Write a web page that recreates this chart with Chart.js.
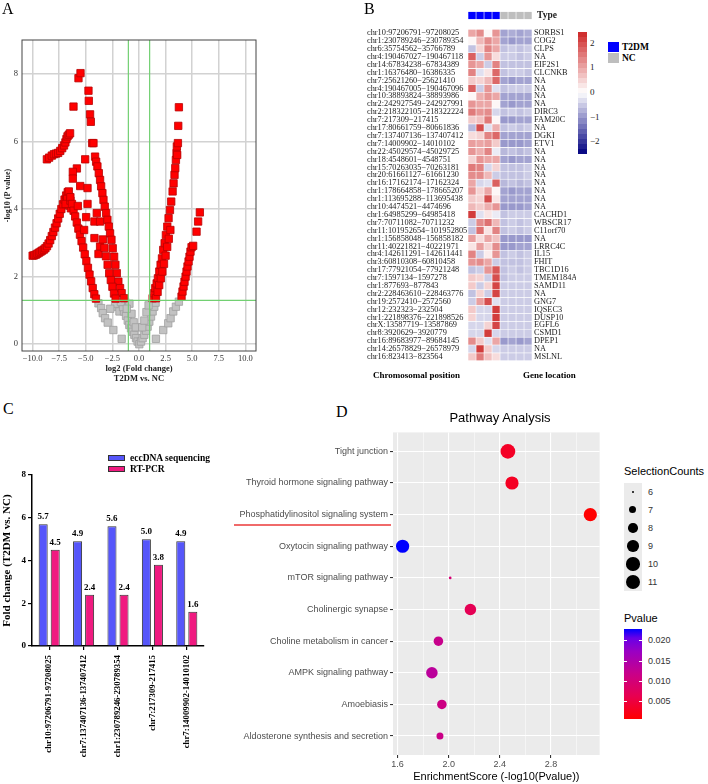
<!DOCTYPE html>
<html>
<head>
<meta charset="utf-8">
<script src="https://cdn.jsdelivr.net/npm/chart.js@4.4.1/dist/chart.umd.min.js"></script>
<style>
  body { margin: 0; background: #fff; }
  #page { position: relative; width: 708px; height: 784px; overflow: hidden; font-family: 'Liberation Serif', serif; }
  canvas { position: absolute; }
  .abs { position: absolute; white-space: nowrap; line-height: 1; }
</style>
</head>
<body>
<div id="page">
  <canvas id="volcano" width="270" height="384" style="left:0;top:0"></canvas>
  <canvas id="typeStrip" width="209" height="20" style="left:367px;top:5px"></canvas>
  <canvas id="heat" width="209" height="344" style="left:367px;top:23px"></canvas>
  <canvas id="bars" width="215" height="340" style="left:0;top:440px"></canvas>
  <canvas id="pathway" width="387" height="359" style="left:220px;top:425px"></canvas>
</div>
<script>
// ---------- A: volcano ----------
const FC_CUT = 1;
const P_CUT = 1.3;
const xTicksA = [-10, -7.5, -5, -2.5, 0, 2.5, 5, 7.5, 10];
const yTicksA = [0, 2, 4, 6, 8];
// significant circles [log2FC, -log10 p]
const sigPoints = [
  [-10.0,2.62],[-9.85,2.63],[-9.7,2.65],[-9.55,2.68],[-9.4,2.71],[-9.25,2.74],[-9.1,2.77],[-8.95,2.8],
  [-8.8,2.84],[-8.65,2.9],[-8.5,2.98],[-8.35,3.08],[-8.2,3.2],[-8.05,3.32],[-7.9,3.45],[-7.75,3.58],
  [-7.6,3.72],[-7.45,3.86],[-7.3,4.0],[-7.15,4.14],[-7.0,4.28],[-6.85,4.4],[-6.7,4.5],[-6.6,4.52],
  [-6.75,4.3],[-6.55,4.1],[-6.4,4.02],[-6.9,4.15],[-6.45,4.25],
  [-6.45,4.35],[-6.3,4.15],[-6.15,3.95],[-6.0,3.78],[-5.85,3.6],[-5.7,3.42],[-5.55,3.24],[-5.4,3.05],
  [-5.25,2.86],[-5.1,2.66],[-4.95,2.46],[-4.8,2.26],[-4.65,2.06],[-4.5,1.86],[-4.35,1.66],[-4.2,1.48],[-4.05,1.35],
  [-8.66,5.47],[-8.45,5.52],[-8.2,5.58],[-8.0,5.62],[-7.8,5.64],[-7.6,5.66],[-7.4,5.72],[-7.22,5.8],
  [-7.05,5.88],[-6.92,5.97],[-6.82,6.07],[-6.72,6.15],[-6.6,6.2],[-6.48,6.24],
  [-5.69,7.87],[-5.5,8.02],[-6.16,7.03],[-4.75,7.5],[-4.72,7.2],[-4.6,6.8],[-4.53,6.58],[-4.4,5.95],
  [-4.28,5.95],[-5.06,5.47],[-5.84,5.2],[-6.22,5.1],[-6.22,4.9],[-5.53,4.68],[-4.84,4.62],[-4.84,4.15],
  [-5.75,4.09],[-4.97,3.76],[-5.16,3.38],[-3.97,3.88],[-4.19,3.63],[-3.66,3.63],[-4.19,3.14],[-3.66,2.89],[-3.81,2.67],
  [-4.13,5.55],[-4.03,5.4],[-3.91,5.26],[-3.78,5.06],[-3.66,4.86],[-3.56,4.67],[-3.44,4.47],[-3.34,4.27],
  [-3.22,4.07],[-3.09,3.88],[-2.97,3.68],[-2.84,3.48],[-2.72,3.28],[-2.59,3.09],[-2.47,2.84],[-2.34,2.59],
  [-2.22,2.35],[-2.09,2.1],[-1.94,1.85],[-1.78,1.66],[-1.63,1.51],[-1.41,1.36],
  [-3.4,3.1],[-3.25,2.85],[-3.1,2.6],[-2.95,2.35],[-2.8,2.1],[-2.65,1.9],[-2.5,1.7],[-2.35,1.5],[-2.2,1.35],
  [1.28,1.36],[1.41,1.51],[1.53,1.66],[1.66,1.8],[1.78,1.95],[1.91,2.15],[2.03,2.35],[2.16,2.54],
  [2.28,2.79],[2.41,2.99],[2.53,3.23],[2.66,3.48],[2.78,3.73],[2.91,3.97],[3.03,4.22],[3.16,4.52],
  [3.25,4.76],[3.34,5.01],[3.41,5.21],[3.47,5.45],[3.53,5.65],[3.56,5.85],
  [3.66,5.95],[3.59,5.6],[3.69,6.46],[3.75,7.01],
  [1.6,1.36],[1.75,1.55],[1.9,1.75],[2.05,1.95],[2.2,2.15],[2.35,2.38],[2.5,2.62],[2.65,2.88],[2.8,3.12],[2.95,3.38],
  [4.0,1.41],[4.09,1.56],[4.19,1.71],[4.28,1.85],[4.38,2.0],[4.47,2.15],[4.56,2.3],[4.66,2.45],
  [4.75,2.59],[4.84,2.74],[4.94,2.87],[5.09,2.91],
  [5.41,3.33],[5.56,3.63],[5.72,3.9]
];
const nsPoints = [
  [-3.81,1.21],[-3.56,1.07],[-3.41,0.92],[-3.19,0.77],[-2.94,0.64],[-2.41,0.42],[-1.63,0.16],[-2.09,1.11],
  [-1.84,0.97],[-2.25,1.2],[-1.31,1.26],[-1.41,0.97],[-1.22,0.84],[-1.06,0.7],[-0.91,0.57],[-0.75,0.47],
  [-0.59,0.37],[-0.44,0.28],[-0.28,0.18],[-0.13,0.08],[0.03,0.0],[0.19,0.08],[0.34,0.18],[0.5,0.28],
  [0.66,0.4],[0.81,0.52],[0.97,0.67],[1.13,0.82],[1.28,0.97],[1.44,1.11],[1.56,1.23],[1.59,0.16],
  [2.28,0.42],[2.75,0.62],[2.97,0.77],[3.22,0.97],[3.47,1.11],[3.75,1.26],[-1.5,1.1],[-0.7,0.9],
  [-0.5,0.65],[-0.3,0.5],[0.3,0.5],[0.5,0.7],[0.7,0.95],[0.9,1.15],[-0.9,1.2],[-1.7,1.25],[-2.7,1.05],[-1.15,1.05]
];

// ---------- B: heatmap ----------
const chromPos = [
  'chr10:97206791\u221297208025','chr1:230789246\u2212230789354','chr6:35754562\u221235766789','chr4:190467027\u2212190467118',
  'chr14:67834238\u221267834389','chr1:16376480\u221216386335','chr7:25621260\u221225621410','chr4:190467005\u2212190467096',
  'chr10:38893824\u221238893986','chr2:242927549\u2212242927991','chr2:218322105\u2212218322224','chr7:217309\u2212217415',
  'chr17:80661759\u221280661836','chr7:137407136\u2212137407412','chr7:14009902\u221214010102','chr22:45029574\u221245029725',
  'chr18:4548601\u22124548751','chr15:70263035\u221270263181','chr20:61661127\u221261661230','chr16:17162174\u221217162324',
  'chr1:178664858\u2212178665207','chr1:113695288\u2212113695438','chr10:4474521\u22124474696','chr1:64985299\u221264985418',
  'chr7:70711082\u221270711232','chr11:101952654\u2212101952805','chr1:156858048\u2212156858182','chr11:40221821\u221240221971',
  'chr4:142611291\u2212142611441','chr3:60810308\u221260810458','chr17:77921054\u221277921248','chr7:1597134\u22121597278',
  'chr1:877693\u2212877843','chr2:228463610\u2212228463776','chr19:2572410\u22122572560','chr12:232323\u2212232504',
  'chr1:221898376\u2212221898526','chrX:13587719\u221213587869','chr8:3920629\u22123920779','chr16:89683977\u221289684145',
  'chr14:26578829\u221226578979','chr16:823413\u2212823564'
];
const geneLoc = [
  'SORBS1','COG2','CLPS','NA','EIF2S1','CLCNKB','NA','NA','NA','NA','DIRC3','FAM20C','NA','DGKI','ETV1',
  'NA','NA','NA','NA','NA','NA','NA','NA','CACHD1','WBSCR17','C11orf70','NA','LRRC4C','IL15','FHIT',
  'TBC1D16','TMEM184A','SAMD11','NA','GNG7','IQSEC3','DUSP10','EGFL6','CSMD1','DPEP1','NA','MSLNL'
];
const sampleType = ['T2DM','T2DM','T2DM','T2DM','NC','NC','NC','NC'];
const heatT2DM = [
  [1.0,1.3,0.1,1.2],[0.1,0.8,1.3,1.0],[-0.6,0.5,1.4,1.0],[1.8,-0.5,1.2,0.4],[1.2,1.0,-0.5,1.4],
  [1.4,-0.3,0.3,1.7],[0.6,0.5,0.8,1.7],[1.8,-0.5,1.2,-0.3],[0.1,0.9,1.2,1.0],[1.2,1.0,1.0,0.1],
  [1.5,1.2,1.3,-0.4],[0.6,0.7,1.5,0.1],[-0.7,2.0,-0.3,0.9],[0.4,0.5,1.4,1.7],[1.1,1.0,1.1,0.6],
  [1.2,0.9,1.4,-0.2],[0.5,1.2,1.0,1.0],[1.5,1.4,-0.4,0.5],[1.3,1.3,0.8,-0.5],[1.0,-0.4,-0.3,1.8],
  [1.2,0.5,1.0,0.1],[0.6,0.5,2.0,0.3],[0.8,0.6,0.9,1.2],[2.2,-0.3,0.3,-0.2],[-0.5,1.3,1.6,0.8],
  [-0.6,1.6,0.3,1.4],[1.1,0.4,1.0,0.7],[0.3,1.1,0.5,1.3],[1.4,-0.5,0.2,1.2],[1.2,1.3,1.0,-0.5],
  [-0.6,-0.5,1.2,1.9],[0.6,0.5,-0.5,2.0],[0.6,-0.5,0.5,2.1],[-0.6,0.5,-0.5,2.1],[-0.5,1.1,2.0,-0.3],
  [0.6,-0.4,-0.4,2.2],[0.5,-0.4,-0.4,2.2],[-0.4,-0.4,0.5,2.1],[-0.4,-0.4,2.2,-0.4],[1.3,0.6,-0.3,1.0],
  [-0.4,2.2,0.6,-0.4],[0.6,1.5,0.7,0.4]
];
const heatNC = [
  [-0.9,-0.8,-0.9,-0.8],[-0.9,-1.0,-0.9,-0.9],[-0.6,-0.5,-0.6,-0.5],[-0.5,-0.5,-0.6,-0.5],[-0.6,-0.6,-0.6,-0.6],
  [-0.6,-0.5,-0.5,-0.6],[-0.9,-1.0,-0.9,-0.9],[-0.6,-0.5,-0.5,-0.5],[-0.9,-0.9,-0.9,-0.9],[-0.9,-1.0,-0.9,-0.9],
  [-0.6,-0.5,-0.6,-0.5],[-1.0,-1.0,-0.9,-0.9],[-0.6,-0.5,-0.6,-0.5],[-0.9,-0.9,-0.9,-0.9],[-1.0,-1.0,-1.0,-0.9],
  [-0.7,-0.6,-0.7,-0.6],[-0.9,-1.0,-0.9,-0.9],[-0.6,-0.6,-0.6,-0.5],[-0.6,-0.6,-0.6,-0.5],[-0.7,-0.6,-0.7,-0.6],
  [-0.9,-1.0,-0.9,-0.9],[-0.9,-0.9,-0.9,-0.9],[-1.0,-1.0,-1.0,-0.9],[-0.6,-0.5,-0.5,-0.5],[-0.6,-0.5,-0.6,-0.5],
  [-0.6,-0.5,-0.6,-0.5],[-1.0,-1.0,-1.0,-1.0],[-1.0,-1.0,-0.9,-0.9],[-0.6,-0.5,-0.6,-0.5],[-0.6,-0.6,-0.6,-0.5],
  [-0.6,-0.5,-0.6,-0.5],[-0.6,-0.5,-0.5,-0.5],[-0.5,-0.5,-0.5,-0.5],[-0.5,-0.5,-0.5,-0.5],[-0.5,-0.5,-0.5,-0.5],
  [-0.5,-0.5,-0.5,-0.5],[-0.5,-0.5,-0.5,-0.5],[-0.5,-0.5,-0.5,-0.5],[-0.5,-0.5,-0.5,-0.5],[-1.0,-0.9,-1.0,-0.9],
  [-0.5,-0.5,-0.5,-0.5],[-0.5,-0.5,-0.5,-0.5]
];
const heatTicks = [2, 1, 0, -1, -2];
const HEAT_MAX = 2.45, HEAT_MIN = -2.5;

// ---------- C: validation bars ----------
const validLoci = ['chr10:97206791-97208025','chr7:137407136-137407412','chr1:230789246-230789354','chr7:217309-217415','chr7:14009902-14010102'];
const seqFold = [5.7, 4.9, 5.6, 5.0, 4.9];
const pcrFold = [4.5, 2.4, 2.4, 3.8, 1.6];

// ---------- D: pathway bubbles ----------
const pathways = ['Tight junction','Thyroid hormone signaling pathway','Phosphatidylinositol signaling system',
  'Oxytocin signaling pathway','mTOR signaling pathway','Cholinergic synapse','Choline metabolism in cancer',
  'AMPK signaling pathway','Amoebiasis','Aldosterone synthesis and secretion'];
const enrichScore = [2.463, 2.495, 3.107, 1.64, 2.012, 2.17, 1.92, 1.869, 1.947, 1.932];
const selCounts = [11, 10, 10, 10, 6, 9, 8, 9, 8, 7];
const majorBreaks = [1.6, 2.0, 2.4, 2.8];
const minorBreaks = [1.8, 2.2, 2.6, 3.0];
const countLegend = [6, 7, 8, 9, 10, 11];
const pLegend = [0.020, 0.015, 0.010, 0.005];

// ---------- helpers ----------
const page = document.getElementById('page');
function txt(s, x, y, css) {
  const d = document.createElement('div');
  d.className = 'abs';
  d.textContent = s;
  d.style.left = x + 'px';
  d.style.top = y + 'px';
  Object.assign(d.style, css || {});
  page.appendChild(d);
  return d;
}
function box(x, y, w, h, css) {
  const d = document.createElement('div');
  d.className = 'abs';
  Object.assign(d.style, {left: x + 'px', top: y + 'px', width: w + 'px', height: h + 'px'}, css || {});
  page.appendChild(d);
  return d;
}
const minus = v => (v < 0 ? '\u2212' : '') + Math.abs(v);

function heatColor(v) {
  const w = [255, 255, 255];
  const hi = [205, 38, 38], lo = [0, 0, 128];
  const end = v >= 0 ? hi : lo;
  const f = Math.min(1, v >= 0 ? v / HEAT_MAX : v / HEAT_MIN);
  const c = w.map((a, i) => Math.round(a + (end[i] - a) * f));
  return `rgb(${c[0]},${c[1]},${c[2]})`;
}
const pStops = [[0, [255, 0, 0]], [0.25, [232, 0, 79]], [0.5, [201, 0, 137]], [0.75, [154, 0, 195]], [0.9, [104, 0, 231]], [1, [0, 0, 255]]];
function rampColor(t) {
  t = Math.max(0, Math.min(1, t));
  for (let i = 1; i < pStops.length; i++) {
    if (t <= pStops[i][0]) {
      const [t0, c0] = pStops[i - 1], [t1, c1] = pStops[i];
      const f = (t - t0) / (t1 - t0);
      const c = c0.map((a, k) => Math.round(a + (c1[k] - a) * f));
      return `rgb(${c[0]},${c[1]},${c[2]})`;
    }
  }
  return 'rgb(0,0,255)';
}
function countRadius(c) {
  const t = (c - 6) / 5;
  return Math.sqrt(2.7 * 2.7 + (14.7 * 14.7 - 2.7 * 2.7) * t) / 2;
}

const frame = {
  id: 'frame',
  afterDatasetsDraw(chart, args, opts) {
    const {ctx, chartArea: a} = chart;
    ctx.save();
    ctx.strokeStyle = opts.color;
    ctx.lineWidth = opts.width;
    ctx.strokeRect(a.left, a.top, a.width, a.height);
    ctx.restore();
  }
};
const panelBg = {
  id: 'panelBg',
  beforeDraw(chart, args, opts) {
    const {ctx, chartArea: a} = chart;
    ctx.save();
    ctx.fillStyle = opts.color;
    ctx.fillRect(a.left, a.top, a.width, a.height);
    ctx.restore();
  }
};
const barValues = {
  id: 'barValues',
  afterDatasetsDraw(chart) {
    const ctx = chart.ctx;
    ctx.save();
    ctx.font = 'bold 9px "Liberation Serif"';
    ctx.fillStyle = '#000';
    ctx.textAlign = 'center';
    ctx.textBaseline = 'bottom';
    chart.data.datasets.forEach((ds, i) => {
      chart.getDatasetMeta(i).data.forEach((el, j) => {
        ctx.fillText(ds.data[j].toFixed(1), el.x, el.y - 3);
      });
    });
    ctx.restore();
  }
};

Chart.defaults.font.family = 'Liberation Serif';
Chart.defaults.animation = false;
Chart.defaults.responsive = false;
Chart.defaults.plugins.legend.display = false;
Chart.defaults.plugins.tooltip.enabled = false;

// ---------- A ----------
new Chart(document.getElementById('volcano'), {
  type: 'scatter',
  data: {
    datasets: [
      {type: 'line', data: [{x: -FC_CUT, y: -0.2}, {x: -FC_CUT, y: 9}], borderColor: '#72d072', borderWidth: 1.2, pointRadius: 0},
      {type: 'line', data: [{x: FC_CUT, y: -0.2}, {x: FC_CUT, y: 9}], borderColor: '#72d072', borderWidth: 1.2, pointRadius: 0},
      {type: 'line', data: [{x: -11, y: P_CUT}, {x: 11, y: P_CUT}], borderColor: '#72d072', borderWidth: 1.2, pointRadius: 0},
      {data: sigPoints.map(p => ({x: p[0], y: p[1]})), pointStyle: 'rect', radius: 5.2,
        backgroundColor: '#ff0000', borderColor: '#b80000', borderWidth: 0.8},
      {data: nsPoints.map(p => ({x: p[0], y: p[1]})), pointStyle: 'rect', radius: 5.2,
        backgroundColor: '#c2c2c2', borderColor: '#a0a0a0', borderWidth: 0.8}
    ]
  },
  options: {
    layout: {padding: {top: 40, right: 14, left: 0, bottom: 0}},
    plugins: {frame: {color: '#444', width: 1}},
    scales: {
      x: {
        type: 'linear', min: -11, max: 11,
        afterBuildTicks: s => { s.ticks = xTicksA.map(v => ({value: v})); },
        ticks: {callback: v => (v < 0 ? '\u2212' : '') + Math.abs(v).toFixed(1), font: {size: 8.5}, color: '#333', padding: 3},
        grid: {color: '#d2d2d2', lineWidth: 1.5, drawTicks: false},
        border: {display: false},
        title: {display: true, text: ['log2 (Fold change)', 'T2DM vs. NC'], font: {size: 8.5, weight: 'bold'}, color: '#222', padding: 0},
        afterFit: s => { s.height = 33; }
      },
      y: {
        min: -0.2, max: 9,
        afterBuildTicks: s => { s.ticks = yTicksA.map(v => ({value: v})); },
        ticks: {font: {size: 8.5}, color: '#333', padding: 4},
        grid: {color: '#d2d2d2', lineWidth: 1.5, drawTicks: false},
        border: {display: false},
        title: {display: true, text: '-log10 (P value)', font: {size: 8, weight: 'bold'}, color: '#222', padding: {top: 3, bottom: 0}},
        afterFit: s => { s.width = 22; }
      }
    }
  },
  plugins: [frame]
});

// ---------- B ----------
const heatRows = chromPos.map((_, r) => heatT2DM[r].concat(heatNC[r]));
new Chart(document.getElementById('heat'), {
  type: 'bar',
  data: {
    labels: chromPos,
    datasets: sampleType.map((t, c) => ({
      data: chromPos.map(() => [c, c + 1]),
      backgroundColor: heatRows.map(row => heatColor(row[c]))
    }))
  },
  options: {
    indexAxis: 'y',
    layout: {padding: 0},
    datasets: {bar: {grouped: false, barPercentage: 1, categoryPercentage: 1, borderSkipped: false, borderWidth: 0.6, borderColor: '#fff'}},
    scales: {
      x: {type: 'linear', min: 0, max: 8, display: false},
      y: {
        position: 'left', grid: {display: false, drawTicks: false}, border: {display: false},
        ticks: {autoSkip: false, crossAlign: 'far', padding: 0, font: {size: 8.3, lineHeight: 1}, color: '#222'},
        afterFit: s => { s.width = 101; }
      },
      y2: {
        type: 'category', labels: geneLoc, position: 'right', offset: true,
        grid: {display: false, drawTicks: false}, border: {display: false},
        ticks: {autoSkip: false, padding: 2, font: {size: 8.3, lineHeight: 1}, color: '#222'},
        afterFit: s => { s.width = 44; }
      }
    }
  }
});
new Chart(document.getElementById('typeStrip'), {
  type: 'bar',
  data: {
    labels: ['Type'],
    datasets: sampleType.map((t, c) => ({
      data: [[c, c + 1]],
      backgroundColor: t === 'T2DM' ? '#0000ff' : '#bebebe'
    }))
  },
  options: {
    indexAxis: 'y',
    layout: {padding: {top: 6.5, bottom: 5.5, left: 101, right: 44}},
    datasets: {bar: {grouped: false, barPercentage: 1, categoryPercentage: 1, borderSkipped: false, borderWidth: 0.6, borderColor: '#fff'}},
    scales: {
      x: {type: 'linear', min: 0, max: 8, display: false},
      y: {display: false}
    }
  }
});

// ---------- C ----------
new Chart(document.getElementById('bars'), {
  type: 'bar',
  data: {
    labels: validLoci,
    datasets: [
      {label: 'eccDNA sequencing', data: seqFold, backgroundColor: '#5656fa', borderColor: '#333', borderWidth: 1},
      {label: 'RT-PCR', data: pcrFold, backgroundColor: '#f01a80', borderColor: '#333', borderWidth: 1}
    ]
  },
  options: {
    layout: {padding: {top: 35, right: 11, left: 0, bottom: 0}},
    categoryPercentage: 0.7,
    barPercentage: 0.75,
    plugins: {},
    scales: {
      x: {
        grid: {display: true, offset: false, drawOnChartArea: false, drawTicks: true, tickLength: 4, color: '#000', lineWidth: 1.2},
        border: {color: '#000', width: 1.5},
        ticks: {autoSkip: false, minRotation: 90, maxRotation: 90, padding: 5, font: {size: 8.8, weight: 'bold'}, color: '#000'},
        afterFit: s => { s.height = 134; }
      },
      y: {
        min: 0, max: 8,
        ticks: {stepSize: 2, font: {size: 9, weight: 'bold'}, color: '#000', padding: 2},
        grid: {drawOnChartArea: false, tickLength: 4, color: '#000', lineWidth: 1.2},
        border: {color: '#000', width: 1.5},
        title: {display: true, text: 'Fold change (T2DM vs. NC)', font: {size: 11, weight: 'bold'}, color: '#000', padding: {top: 1, bottom: 0}},
        afterFit: s => { s.width = 32; }
      }
    }
  },
  plugins: [barValues]
});

// ---------- D ----------
const pvals = enrichScore.map(s => Math.pow(10, -s));
const pMin = Math.min(...pvals), pMax = Math.max(...pvals);
const pColor = p => rampColor((p - pMin) / (pMax - pMin));
const allBreaks = majorBreaks.concat(minorBreaks).sort((a, b) => a - b);
const isMajor = v => majorBreaks.some(m => Math.abs(m - v) < 1e-6);
new Chart(document.getElementById('pathway'), {
  type: 'bubble',
  data: {
    datasets: [{
      data: pathways.map((p, i) => ({x: enrichScore[i], y: i, r: countRadius(selCounts[i])})),
      backgroundColor: pvals.map(pColor),
      borderWidth: 0
    }]
  },
  options: {
    layout: {padding: {top: 5, right: 0, left: 0, bottom: 0}},
    plugins: {panelBg: {color: '#ebebeb'}},
    scales: {
      x: {
        type: 'linear', min: 1.565, max: 3.18,
        afterBuildTicks: s => { s.ticks = allBreaks.map(v => ({value: v})); },
        ticks: {callback: v => isMajor(v) ? v.toFixed(1) : '', font: {family: 'Liberation Sans', size: 9}, color: '#4d4d4d', padding: 1, autoSkip: false, maxRotation: 0},
        grid: {
          color: '#ffffff',
          lineWidth: c => (c.tick && isMajor(c.tick.value)) ? 1.1 : 0.5,
          tickColor: c => (c.tick && isMajor(c.tick.value)) ? '#333' : 'rgba(0,0,0,0)',
          tickLength: 3
        },
        border: {display: false},
        title: {display: true, text: 'EnrichmentScore (-log10(Pvalue))', font: {family: 'Liberation Sans', size: 11}, color: '#000', padding: 0},
        afterFit: s => { s.height = 29; }
      },
      y: {
        type: 'linear', min: -0.6, max: 9.6, reverse: true,
        afterBuildTicks: s => { s.ticks = pathways.map((_, i) => ({value: i})); },
        ticks: {callback: v => pathways[v], font: {family: 'Liberation Sans', size: 9}, color: '#4d4d4d', padding: 2, autoSkip: false},
        grid: {color: '#ffffff', lineWidth: 1.1, tickColor: '#333', tickLength: 3},
        border: {display: false},
        afterFit: s => { s.width = 173; }
      }
    }
  },
  plugins: [panelBg]
});

// ---------- text, legends ----------
const panelFont = {fontSize: '16px'};
txt('A', 2, 1, panelFont);
txt('B', 364, 1, panelFont);
txt('C', 3, 401, panelFont);
txt('D', 336, 404, panelFont);

// B legends
txt('Type', 537, 10.5, {fontSize: '9.5px', fontWeight: 'bold', color: '#222'});
const colTop = 32, colH = 122, colX = 578;
const nBands = 24;
for (let i = 0; i < nBands; i++) {
  const v = HEAT_MAX - (i + 0.5) * (HEAT_MAX - HEAT_MIN) / nBands;
  box(colX, colTop + i * colH / nBands, 9, colH / nBands + 0.4, {background: heatColor(v)});
}
heatTicks.forEach(v => {
  const y = colTop + (HEAT_MAX - v) / (HEAT_MAX - HEAT_MIN) * colH;
  txt(minus(v), 590, y - 4.5, {fontSize: '9px', color: '#222'});
});
box(608, 42, 11, 10, {background: '#0000ff'});
box(608, 53, 11, 10, {background: '#bebebe'});
txt('T2DM', 622, 42.5, {fontSize: '9.5px', fontWeight: 'bold'});
txt('NC', 622, 53.5, {fontSize: '9.5px', fontWeight: 'bold'});
txt('Chromosomal position', 373, 370.5, {fontSize: '9px', fontWeight: 'bold'});
txt('Gene location', 523, 370.5, {fontSize: '9px', fontWeight: 'bold'});

// C legend
box(108, 455, 17, 6, {background: '#5656fa', border: '1px solid #333', boxSizing: 'border-box'});
box(108, 466, 17, 6, {background: '#f01a80', border: '1px solid #333', boxSizing: 'border-box'});
txt('eccDNA sequencing', 130, 453.5, {fontSize: '9.5px', fontWeight: 'bold'});
txt('RT-PCR', 130, 464.5, {fontSize: '9.5px', fontWeight: 'bold'});

// D extras
const sans = {fontFamily: "'Liberation Sans', sans-serif"};
txt('Pathway Analysis', 500, 411, Object.assign({fontSize: '13px', transform: 'translateX(-50%)'}, sans));
box(234, 524, 157, 1.6, {background: '#f06a6a'});
txt('SelectionCounts', 624, 466, Object.assign({fontSize: '11px'}, sans));
box(624, 483, 18, 108, {background: '#ebebeb'});
countLegend.forEach((c, i) => {
  const cy = 492 + i * 18, r = countRadius(c);
  box(633 - r, cy - r, 2 * r, 2 * r, {background: '#000', borderRadius: '50%'});
  txt(String(c), 648, cy - 4.5, Object.assign({fontSize: '9px', color: '#333'}, sans));
});
txt('Pvalue', 624, 613, Object.assign({fontSize: '11px'}, sans));
const cbTop = 629, cbH = 90;
const grad = pStops.map(s => `rgb(${s[1].join(',')}) ${s[0] * 100}%`).join(',');
box(624, cbTop, 18, cbH, {background: `linear-gradient(to top, ${grad})`});
pLegend.forEach(p => {
  const y = cbTop + cbH - (p - pMin) / (pMax - pMin) * cbH;
  box(624, y - 0.5, 3, 1, {background: '#fff'});
  box(639, y - 0.5, 3, 1, {background: '#fff'});
  txt(p.toFixed(3), 648, y - 4.5, Object.assign({fontSize: '9px', color: '#333'}, sans));
});
</script>
</body>
</html>
